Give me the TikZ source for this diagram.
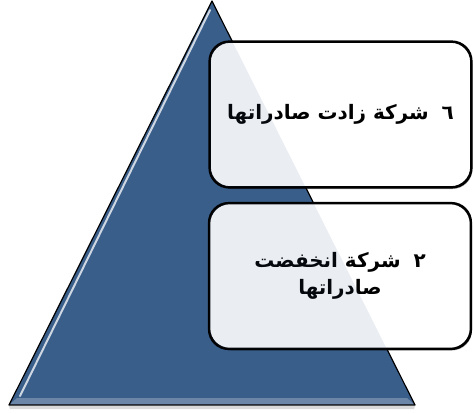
\documentclass[tikz,border=0pt]{standalone}
\usepackage{fontspec}
\usetikzlibrary{shadows}
\newfontfamily\arabicfont[Script=Arabic]{DejaVu Sans}
\TeXXeTstate=1
\definecolor{tri}{RGB}{58,94,138}
\tikzset{
  box/.style={draw=black, line width=1.6bp, rounded corners=20bp, fill=white,
    minimum width=261bp, minimum height=145bp, align=center, inner sep=0pt,
    font=\arabicfont\bfseries\fontsize{20}{27}\selectfont,
    drop shadow={shadow xshift=1.5bp, shadow yshift=-2bp, opacity=0.3, fill=black}},
  tint/.style={fill=tri, opacity=0.1},
  rim/.style={draw=black, line width=1.6bp, rounded corners=20bp},
}
\begin{document}
\begin{tikzpicture}[x=1bp,y=-1bp]
\useasboundingbox (0,0) rectangle (473,413);
\coordinate (apex) at (212,1);
\coordinate (bl) at (9,405);
\coordinate (br) at (415,405);
% shadow under triangle
\fill[black, opacity=0.15] (9,406) -- (415,406) -- (414,409) -- (10,409) -- cycle;
\fill[tri] (apex) -- (br) -- (bl) -- cycle;
\fill[white, opacity=0.25] (17,398) -- (407,398) -- (415,405) -- (9,405) -- cycle;
\draw[white, line width=2bp, opacity=0.75, line cap=round] (210,10) -- (20,396);
\draw[black, line width=1.2bp, line join=round] (apex) -- (br) -- (bl) -- cycle;
\node[box] (b1) at (340.5,114.5) {\beginR ٦\hspace{6bp} شركة زادت صادراتها\endR};
\node[box] (b2) at (340,276) {\beginR ٢\hspace{6bp} شركة انخفضت\endR\\ \beginR صادراتها\endR};
\foreach \b in {b1,b2}{
  \begin{scope}
    \clip[rounded corners=20bp] (\b.north west) rectangle (\b.south east);
    \fill[tint] (apex) -- (br) -- (bl) -- cycle;
  \end{scope}
  \draw[rim] (\b.north west) rectangle (\b.south east);
}
\end{tikzpicture}
\end{document}
